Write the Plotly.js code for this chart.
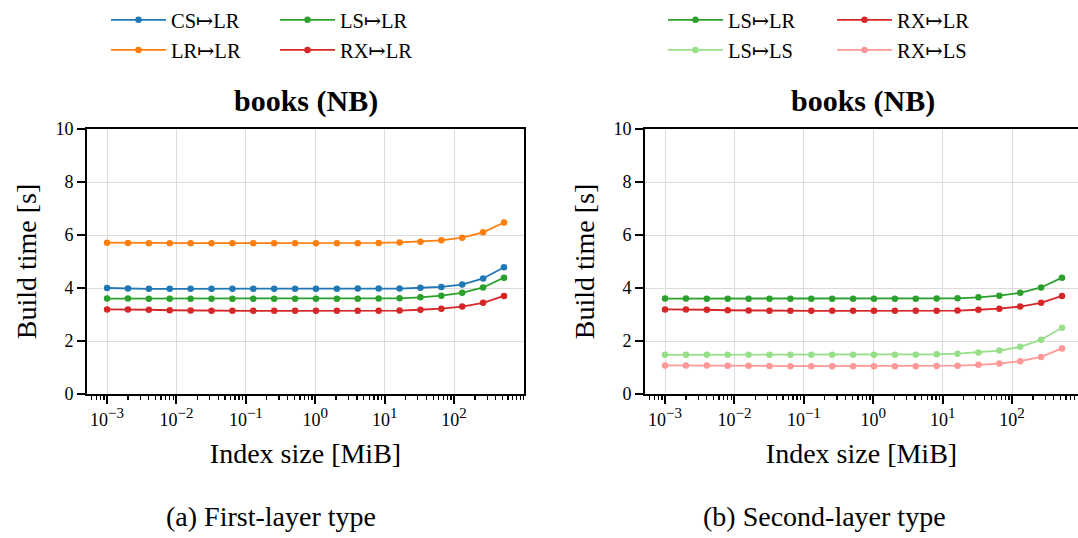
<!DOCTYPE html>
<html>
<head>
<meta charset="utf-8">
<script src="https://cdn.plot.ly/plotly-3.0.1.min.js"></script>
<style>html,body{margin:0;padding:0;background:#fff;}#chart{width:1078px;height:538px;}</style>
</head>
<body>
<div id="chart"></div>
<script>
// ---------- data ----------
const sizesMiB = [0.001, 0.002, 0.004, 0.008, 0.016, 0.032, 0.064, 0.128, 0.256, 0.512,
                  1.024, 2.048, 4.096, 8.192, 16.384, 32.768, 65.536, 131.072, 262.144, 524.288];

const csToLR = [4.00,3.98,3.97,3.97,3.97,3.97,3.97,3.97,3.97,3.97,3.97,3.97,3.98,3.98,3.98,4.01,4.04,4.13,4.36,4.78];
const lrToLR = [5.71,5.70,5.69,5.69,5.69,5.69,5.69,5.69,5.69,5.69,5.69,5.69,5.69,5.70,5.72,5.75,5.80,5.90,6.10,6.47];
const lsToLR = [3.60,3.60,3.59,3.59,3.59,3.59,3.59,3.59,3.59,3.59,3.59,3.59,3.59,3.60,3.61,3.65,3.71,3.82,4.02,4.39];
const rxToLR = [3.19,3.19,3.18,3.16,3.15,3.14,3.14,3.14,3.14,3.14,3.14,3.14,3.14,3.14,3.15,3.18,3.22,3.30,3.44,3.70];
const lsToLS = [1.48,1.48,1.48,1.48,1.48,1.48,1.48,1.48,1.48,1.48,1.48,1.48,1.48,1.50,1.52,1.57,1.64,1.78,2.05,2.50];
const rxToLS = [1.08,1.08,1.08,1.07,1.07,1.06,1.05,1.05,1.05,1.05,1.05,1.05,1.05,1.06,1.07,1.10,1.15,1.24,1.40,1.72];

const xTickVals = [0.001, 0.01, 0.1, 1, 10, 100];
const xTickExp = ['\u22123', '\u22122', '\u22121', '0', '1', '2'];

const panelTitles = ['<b>books (NB)</b>', '<b>books (NB)</b>'];
const captions = ['(a) First-layer type', '(b) Second-layer type'];

const C = {blue:'#1f77b4', orange:'#ff7f0e', green:'#2ca02c', red:'#d62728', lgreen:'#98df8a', lred:'#ff9896'};

// ---------- geometry ----------
const W = 1078, H = 538;
const M = {l: 87, r: 0, t: 122, b: 144};
const PW = W - M.l - M.r, PH = H - M.t - M.b;
const fx = px => (px - M.l) / PW;
const fy = py => 1 - (py - M.t) / PH;

function tr(name, y, color, xa, ya, leg) {
  return {
    type: 'scatter', mode: 'lines+markers', name: name,
    x: sizesMiB, y: y, xaxis: xa, yaxis: ya, legend: leg,
    line: {color: color, width: 1.8},
    marker: {color: color, size: 6.5},
    hoverinfo: 'skip'
  };
}

const data = [
  tr('CS\u21A6LR', csToLR, C.blue,   'x',  'y',  'legend'),
  tr('LR\u21A6LR', lrToLR, C.orange, 'x',  'y',  'legend2'),
  tr('LS\u21A6LR', lsToLR, C.green,  'x',  'y',  'legend'),
  tr('RX\u21A6LR', rxToLR, C.red,    'x',  'y',  'legend2'),
  tr('LS\u21A6LR', lsToLR, C.green,  'x2', 'y2', 'legend3'),
  tr('LS\u21A6LS', lsToLS, C.lgreen, 'x2', 'y2', 'legend4'),
  tr('RX\u21A6LR', rxToLR, C.red,    'x2', 'y2', 'legend3'),
  tr('RX\u21A6LS', rxToLS, C.lred,   'x2', 'y2', 'legend4')
];

const FONT = 'Liberation Serif, DejaVu Serif, Times New Roman, serif';
const decade = 69.4;
const lo = -3.289;
const xTickText = xTickExp.map(e => '10<sup><span style="font-size:15px">' + e + '</span></sup>');

function xax(domPx, mirror) {
  return {
    type: 'log', domain: [fx(domPx[0]), Math.min(1, fx(domPx[1]))],
    range: [lo, lo + (Math.min(W, domPx[1]) - domPx[0]) / decade],
    tickvals: xTickVals, ticktext: xTickText,
    ticks: 'outside', ticklen: 8, tickwidth: 2, tickcolor: '#000',
    minor: {ticks: 'outside', ticklen: 4, tickwidth: 1.3, tickcolor: '#000', dtick: 'D1', showgrid: false},
    showline: true, linecolor: '#000', linewidth: 2, mirror: mirror,
    showgrid: true, gridcolor: '#dcdcdc', gridwidth: 1,
    zeroline: false,
    tickfont: {family: FONT, size: 18, color: '#000'},
    title: {text: 'Index size [MiB]', font: {family: FONT, size: 28, color: '#000'}, standoff: 15},
    automargin: false
  };
}
function yax(anchor, mirror) {
  return {
    anchor: anchor, range: [0, 10], dtick: 2, tick0: 0,
    ticks: 'outside', ticklen: 8, tickwidth: 2, tickcolor: '#000',
    showline: true, linecolor: '#000', linewidth: 2, mirror: mirror,
    showgrid: true, gridcolor: '#dcdcdc', gridwidth: 1,
    zeroline: false,
    tickfont: {family: FONT, size: 18, color: '#000'},
    title: {text: 'Build time [s]', font: {family: FONT, size: 28, color: '#000'}, standoff: 11},
    automargin: false
  };
}

function leg(xpx, ypx) {
  return {
    orientation: 'h', x: fx(xpx), y: fy(ypx), xanchor: 'left', yanchor: 'middle',
    bgcolor: 'rgba(0,0,0,0)', borderwidth: 0,
    font: {family: FONT, size: 20.5, color: '#000'},
    itemwidth: 55, entrywidth: 99, entrywidthmode: 'pixels', tracegroupgap: 0
  };
}

const layout = {
  width: W, height: H, margin: M,
  paper_bgcolor: '#fff', plot_bgcolor: '#fff',
  font: {family: FONT, color: '#000'},
  showlegend: true,
  xaxis: Object.assign(xax([87, 524], true), {anchor: 'y'}),
  yaxis: yax('x', true),
  xaxis2: Object.assign(xax([645, 1081], true), {anchor: 'y2'}),
  yaxis2: yax('x2', false),
  legend:  leg(106, 10),
  legend2: leg(106, 41),
  legend3: leg(663, 10),
  legend4: leg(663, 41),
  annotations: [
    {text: panelTitles[0], x: fx(305.5), y: fy(93), xref: 'paper', yref: 'paper', showarrow: false,
     xanchor: 'center', yanchor: 'middle', font: {family: FONT, size: 30, color: '#000'}},
    {text: panelTitles[1], x: fx(863), y: fy(93), xref: 'paper', yref: 'paper', showarrow: false,
     xanchor: 'center', yanchor: 'middle', font: {family: FONT, size: 30, color: '#000'}},
    {text: captions[0], x: fx(270.5), y: fy(520), xref: 'paper', yref: 'paper', showarrow: false,
     xanchor: 'center', yanchor: 'middle', font: {family: FONT, size: 28, color: '#000'}},
    {text: captions[1], x: fx(824), y: fy(520), xref: 'paper', yref: 'paper', showarrow: false,
     xanchor: 'center', yanchor: 'middle', font: {family: FONT, size: 28, color: '#000'}}
  ]
};

Plotly.newPlot('chart', data, layout, {displayModeBar: false, staticPlot: true});
</script>
</body>
</html>
